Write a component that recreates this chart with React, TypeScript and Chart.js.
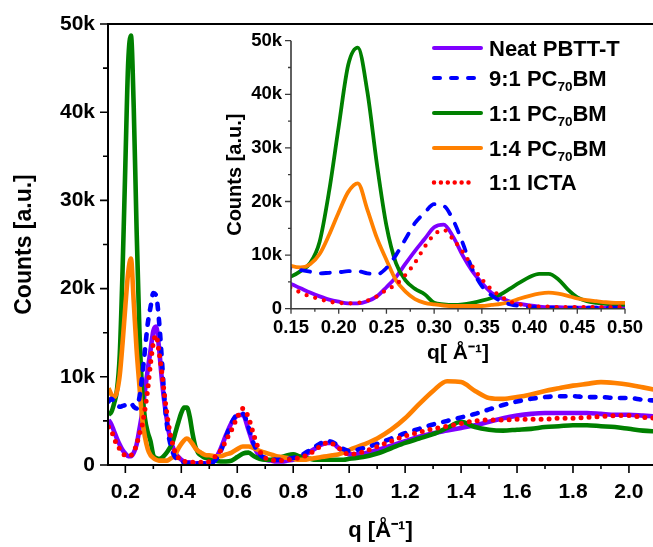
import React, { useEffect, useRef } from 'react';
import { Chart, registerables } from 'chart.js';

Chart.register(...registerables);

const FONT = "'Liberation Sans', Arial, Helvetica, sans-serif";

// scattering vector q [1/Å]
const qGrid = [
  0.14, 0.15, 0.16, 0.17, 0.18, 0.19, 0.20, 0.21, 0.22, 0.23,
  0.24, 0.25, 0.26, 0.27, 0.28, 0.29, 0.30, 0.31, 0.32, 0.33,
  0.34, 0.35, 0.36, 0.37, 0.38, 0.39, 0.40, 0.41, 0.42, 0.43,
  0.44, 0.45, 0.46, 0.47, 0.48, 0.49, 0.50,
  0.52, 0.54, 0.56, 0.58, 0.60, 0.62, 0.64, 0.66, 0.68, 0.70,
  0.72, 0.74, 0.76, 0.78, 0.80, 0.82, 0.84, 0.86, 0.88, 0.90,
  0.92, 0.94, 0.96, 0.98, 1.00,
  1.05, 1.10, 1.15, 1.20, 1.25, 1.30, 1.35, 1.40, 1.45, 1.50,
  1.55, 1.60, 1.65, 1.70, 1.75, 1.80, 1.85, 1.90, 1.95, 2.00, 2.05, 2.10,
];

const neatPBTTT = [
  5100, 4600, 3800, 3000, 2300, 1700, 1300, 1000, 1000, 1400,
  2300, 4000, 5900, 8400, 10800, 13000, 15200, 15700, 13400, 9900,
  7000, 4800, 3000, 2000, 1300, 900, 600, 400, 300, 300,
  200, 200, 200, 200, 200, 200, 200,
  600, 1800, 3400, 4800, 5600, 5700, 4000, 2100, 1000, 600,
  500, 400, 400, 500, 600, 800, 1100, 1500, 1900, 2300,
  2500, 2500, 2000, 1500, 1200,
  1300, 1700, 2200, 2700, 3200, 3600, 3900, 4200, 4500, 4900,
  5300, 5600, 5800, 5900, 5900, 5900, 5900, 5800, 5700, 5700, 5600, 5500,
];

const pc70bm91 = [
  7200, 7500, 7200, 6900, 6600, 6700, 6800, 7000, 7000, 6600,
  6400, 7600, 10000, 13000, 16000, 17900, 19500, 19200, 16500, 12200,
  7400, 4200, 2500, 1400, 800, 500, 300, 300, 200, 200,
  200, 200, 200, 200, 200, 200, 200,
  500, 1500, 3200, 4800, 5700, 5800, 4300, 2300, 1200, 800,
  700, 600, 600, 700, 800, 1000, 1300, 1700, 2100, 2500,
  2700, 2600, 2200, 1800, 1600,
  1900, 2400, 3000, 3600, 4100, 4600, 5000, 5400, 5800, 6300,
  6800, 7200, 7500, 7700, 7800, 7800, 7700, 7700, 7600, 7600, 7400, 7300,
];

const pc70bm11 = [
  5700, 6000, 7000, 8500, 12500, 22000, 34000, 45500, 48700, 40500,
  27000, 15500, 8500, 5300, 3700, 2700, 1100, 800, 700, 800,
  1100, 1500, 2000, 2700, 3800, 4900, 5900, 6500, 6500, 5500,
  3600, 2100, 1400, 1100, 900, 800, 700,
  500, 400, 400, 500, 900, 1300, 1400, 1000, 700, 600,
  600, 700, 900, 1100, 1200, 1000, 800, 700, 600, 600,
  600, 600, 600, 600, 700,
  900, 1300, 1900, 2500, 3000, 3500, 4200, 4900, 4300, 4000,
  3900, 4000, 4100, 4300, 4400, 4500, 4500, 4400, 4300, 4100, 3900, 3800,
];

const pc70bm14 = [
  8700, 8000, 7700, 8300, 10200, 13800, 18000, 21800, 23400, 18500,
  13200, 9100, 5300, 3200, 1800, 1100, 800, 600, 500, 500,
  500, 500, 700, 900, 1300, 1900, 2400, 2800, 3000, 2800,
  2400, 1900, 1600, 1400, 1200, 1100, 1100,
  1000, 1000, 1200, 1400, 1800, 2100, 2100, 1900, 1600, 1400,
  1200, 1000, 900, 800, 700, 600, 600, 700, 800, 900,
  1000, 1100, 1200, 1400, 1700,
  2300, 3000, 4000, 5300, 6900, 8400, 9500, 9400, 8400, 7600,
  7500, 7700, 8000, 8400, 8700, 9000, 9200, 9400, 9300, 9100, 8800, 8500,
];

const icta11 = [
  4300, 3900, 3000, 2300, 1800, 1300, 1100, 1000, 1100, 1500,
  2300, 3500, 4500, 6300, 8600, 11500, 13800, 14700, 12900, 10600,
  7900, 5500, 3600, 2300, 1300, 800, 500, 400, 400, 300,
  300, 300, 300, 300, 300, 300, 400,
  900, 1600, 2800, 4000, 5400, 6400, 5400, 3300, 1600, 800,
  600, 500, 500, 600, 700, 800, 1000, 1300, 1700, 2200,
  2500, 2400, 2000, 1500, 1200,
  1500, 2100, 2700, 3300, 3700, 4100, 4400, 4700, 5000, 5100,
  5100, 5200, 5200, 5200, 5300, 5300, 5400, 5500, 5600, 5600, 5400, 5300,
];

// label segments: odd-index segments are subscripts
const seriesLabels = [
  ['Neat PBTT-T'],
  ['9:1 PC', '70', 'BM'],
  ['1:1 PC', '70', 'BM'],
  ['1:4 PC', '70', 'BM'],
  ['1:1 ICTA'],
];
const seriesValues = [neatPBTTT, pc70bm91, pc70bm11, pc70bm14, icta11];
const seriesColors = ['#7F00FF', '#0000FF', '#008000', '#FF8000', '#FF0000'];
const seriesStyles = ['solid', 'dash', 'solid', 'solid', 'dot'];
const drawOrder = [5, 2, 4, 3, 1];

const mainXRange = [0.138, 2.086];
const insetXRange = [0.15, 0.5];
const yRange = [0, 50000];

const mainXTicks = [0.2, 0.4, 0.6, 0.8, 1.0, 1.2, 1.4, 1.6, 1.8, 2.0];
const insetXTicks = [0.15, 0.2, 0.25, 0.3, 0.35, 0.4, 0.45, 0.5];
const yTicks = [0, 10000, 20000, 30000, 40000, 50000];

function kLabel(v: any) {
  const n = Number(v);
  return n === 0 ? '0' : `${Math.round(n / 1000)}k`;
}

function makeDatasets(lw: number, dash: number[], dot: number[], dotW: number) {
  return seriesValues.map((vals, i) => ({
    label: seriesLabels[i].join(''),
    data: qGrid.map((q, j) => ({ x: q, y: vals[j] })),
    borderColor: seriesColors[i],
    backgroundColor: seriesColors[i],
    borderWidth: seriesStyles[i] === 'dot' ? dotW : lw,
    borderDash: seriesStyles[i] === 'dash' ? dash : seriesStyles[i] === 'dot' ? dot : [],
    borderCapStyle: seriesStyles[i] === 'solid' ? 'butt' : 'round',
    borderJoinStyle: 'round',
    pointRadius: 0,
    pointHoverRadius: 0,
    cubicInterpolationMode: 'monotone',
    fill: false,
    order: drawOrder[i],
  }));
}

type AxOpts = {
  id: string;
  color: string;
  width: number;
  tickWidth: number;
  frameTop: boolean;
  yMinor: number;
  xMinor: number;
  majorEvery: number;
  yMajorLen: number;
  yMinorLen: number;
  xMajorLen: number;
  xMinorLen: number;
};

function axesPlugin(o: AxOpts) {
  return {
    id: o.id,
    afterDatasetsDraw(chart: any) {
      const { ctx, chartArea: a, scales } = chart;
      const xs = scales.x;
      const ys = scales.y;
      ctx.save();
      ctx.strokeStyle = o.color;
      ctx.lineCap = 'butt';
      ctx.lineWidth = o.tickWidth;
      ctx.beginPath();
      const y0 = Math.ceil(ys.min / o.yMinor - 1e-6);
      const y1 = Math.floor(ys.max / o.yMinor + 1e-6);
      for (let i = y0; i <= y1; i++) {
        const py = ys.getPixelForValue(i * o.yMinor);
        const len = i % o.majorEvery === 0 ? o.yMajorLen : o.yMinorLen;
        ctx.moveTo(a.left, py);
        ctx.lineTo(a.left - len, py);
      }
      const x0 = Math.ceil(xs.min / o.xMinor - 1e-6);
      const x1 = Math.floor(xs.max / o.xMinor + 1e-6);
      for (let i = x0; i <= x1; i++) {
        const px = xs.getPixelForValue(i * o.xMinor);
        const len = i % o.majorEvery === 0 ? o.xMajorLen : o.xMinorLen;
        ctx.moveTo(px, a.bottom);
        ctx.lineTo(px, a.bottom + len);
      }
      ctx.stroke();
      ctx.lineWidth = o.width;
      ctx.beginPath();
      ctx.moveTo(a.left, a.top - (o.frameTop ? o.width / 2 : 0));
      ctx.lineTo(a.left, a.bottom + o.width / 2);
      ctx.moveTo(a.left - o.width / 2, a.bottom);
      ctx.lineTo(a.right, a.bottom);
      if (o.frameTop) {
        ctx.moveTo(a.left - o.width / 2, a.top);
        ctx.lineTo(a.right, a.top);
      }
      ctx.stroke();
      ctx.restore();
    },
  };
}

// legend layout (inset canvas coordinates)
const legendRowY = [28, 58, 93, 128, 162.5];
const legendLineX = [232, 283];
const legendTextX = 289;

const legendPlugin = {
  id: 'insetLegend',
  afterDraw(chart: any) {
    const ctx = chart.ctx as CanvasRenderingContext2D;
    ctx.save();
    seriesLabels.forEach((parts, i) => {
      const yc = legendRowY[i];
      ctx.strokeStyle = seriesColors[i];
      ctx.beginPath();
      if (seriesStyles[i] === 'dash') {
        ctx.lineWidth = 4;
        ctx.lineCap = 'round';
        ctx.setLineDash([6, 11]);
        ctx.moveTo(legendLineX[0] + 2, yc);
        ctx.lineTo(legendLineX[1] - 8, yc);
      } else if (seriesStyles[i] === 'dot') {
        ctx.lineWidth = 4.5;
        ctx.lineCap = 'round';
        ctx.setLineDash([0, 6.9]);
        ctx.moveTo(legendLineX[0] + 2, yc);
        ctx.lineTo(legendLineX[1] - 8, yc);
      } else {
        ctx.lineWidth = 4;
        ctx.lineCap = 'round';
        ctx.setLineDash([]);
        ctx.moveTo(legendLineX[0] + 2, yc);
        ctx.lineTo(legendLineX[1] - 2, yc);
      }
      ctx.stroke();
      ctx.setLineDash([]);
      let x = legendTextX;
      ctx.fillStyle = '#000';
      ctx.textBaseline = 'alphabetic';
      ctx.textAlign = 'left';
      parts.forEach((p, k) => {
        const sub = k % 2 === 1;
        ctx.font = `bold ${sub ? 13.5 : 22}px ${FONT}`;
        ctx.fillText(p, x, yc + 7.9 + (sub ? 5 : 0));
        x += ctx.measureText(p).width;
      });
    });
    ctx.restore();
  },
};

export default function App() {
  const mainRef = useRef<HTMLCanvasElement>(null);
  const insetRef = useRef<HTMLCanvasElement>(null);

  useEffect(() => {
    const tickFont = { family: FONT, size: 21, weight: 'bold' as const };
    const insetTickFont = { family: FONT, size: 18.5, weight: 'bold' as const };
    const setTicks = (vals: number[]) => (s: any) => {
      s.ticks = vals.map((v) => ({ value: v }));
    };
    const fixX = (h: number) => (s: any) => {
      s.height = h;
      s.paddingLeft = 0;
      s.paddingRight = 0;
    };
    const fixY = (w: number) => (s: any) => {
      s.width = w;
      s.paddingTop = 0;
      s.paddingBottom = 0;
    };

    const main = new Chart(mainRef.current as HTMLCanvasElement, {
      type: 'line',
      data: { datasets: makeDatasets(4.6, [5.5, 9.5], [0, 8], 5) as any },
      options: {
        responsive: false,
        animation: false,
        devicePixelRatio: 1,
        layout: { padding: { top: 24, left: 0, right: 0, bottom: 0 } },
        plugins: { legend: { display: false }, tooltip: { enabled: false } },
        scales: {
          x: {
            type: 'linear',
            min: mainXRange[0],
            max: mainXRange[1],
            bounds: 'data',
            grid: { display: false, drawTicks: false },
            border: { display: false },
            afterBuildTicks: setTicks(mainXTicks),
            ticks: {
              autoSkip: false,
              maxRotation: 0,
              padding: 15,
              color: '#000',
              font: tickFont,
              callback: (v: any) => Number(v).toFixed(1),
            },
            title: {
              display: true,
              text: 'q [Å⁻¹]',
              color: '#000',
              font: { family: FONT, size: 22, weight: 'bold' },
              padding: { top: 0, bottom: 3 },
            },
            afterFit: fixX(82),
          } as any,
          y: {
            type: 'linear',
            min: yRange[0],
            max: yRange[1],
            bounds: 'data',
            grid: { display: false, drawTicks: false },
            border: { display: false },
            afterBuildTicks: setTicks(yTicks),
            ticks: {
              autoSkip: false,
              padding: 13,
              color: '#000',
              font: tickFont,
              callback: kLabel,
            },
            title: {
              display: true,
              text: 'Counts [a.u.]',
              color: '#000',
              font: { family: FONT, size: 23, weight: 'bold' },
              padding: { top: 10.7, bottom: 0 },
            },
            afterFit: fixY(108),
          } as any,
        },
      },
      plugins: [
        axesPlugin({
          id: 'mainAxes',
          color: '#000',
          width: 2,
          tickWidth: 1.6,
          frameTop: true,
          yMinor: 5000,
          xMinor: 0.1,
          majorEvery: 2,
          yMajorLen: 8,
          yMinorLen: 5,
          xMajorLen: 8,
          xMinorLen: 4,
        }),
      ],
    });

    const inset = new Chart(insetRef.current as HTMLCanvasElement, {
      type: 'line',
      data: { datasets: makeDatasets(3.8, [9, 11], [0, 9], 4.3) as any },
      options: {
        responsive: false,
        animation: false,
        devicePixelRatio: 1,
        layout: { padding: { top: 20.7, left: 0, right: 28, bottom: 0 } },
        plugins: { legend: { display: false }, tooltip: { enabled: false } },
        scales: {
          x: {
            type: 'linear',
            min: insetXRange[0],
            max: insetXRange[1],
            bounds: 'data',
            grid: { display: false, drawTicks: false },
            border: { display: false },
            afterBuildTicks: setTicks(insetXTicks),
            ticks: {
              autoSkip: false,
              maxRotation: 0,
              padding: 8,
              color: '#000',
              font: insetTickFont,
              callback: (v: any) => Number(v).toFixed(2),
            },
            title: {
              display: true,
              text: 'q[ Å⁻¹]',
              color: '#000',
              font: { family: FONT, size: 21, weight: 'bold' },
              padding: { top: 0, bottom: 4.4 },
            },
            afterFit: fixX(61.3),
          } as any,
          y: {
            type: 'linear',
            min: yRange[0],
            max: yRange[1],
            bounds: 'data',
            grid: { display: false, drawTicks: false },
            border: { display: false },
            afterBuildTicks: setTicks(yTicks),
            ticks: {
              autoSkip: false,
              padding: 9,
              color: '#000',
              font: insetTickFont,
              callback: kLabel,
            },
            title: {
              display: true,
              text: 'Counts [a.u.]',
              color: '#000',
              font: { family: FONT, size: 20, weight: 'bold' },
              padding: { top: 23, bottom: 0 },
            },
            afterFit: fixY(91),
          } as any,
        },
      },
      plugins: [
        axesPlugin({
          id: 'insetAxes',
          color: '#3a3a3a',
          width: 1.6,
          tickWidth: 1.3,
          frameTop: false,
          yMinor: 5000,
          xMinor: 0.025,
          majorEvery: 2,
          yMajorLen: 6,
          yMinorLen: 3,
          xMajorLen: 5,
          xMinorLen: 3,
        }),
        legendPlugin,
      ],
    });

    return () => {
      main.destroy();
      inset.destroy();
    };
  }, []);

  return (
    <div
      style={{
        position: 'absolute',
        left: 0,
        top: 0,
        width: 653,
        height: 547,
        background: '#fff',
        overflow: 'hidden',
      }}
    >
      <canvas
        ref={mainRef}
        width={653}
        height={547}
        style={{ position: 'absolute', left: 0, top: 0, width: 653, height: 547 }}
      />
      <canvas
        ref={insetRef}
        width={453}
        height={350}
        style={{ position: 'absolute', left: 200, top: 20, width: 453, height: 350 }}
      />
    </div>
  );
}
